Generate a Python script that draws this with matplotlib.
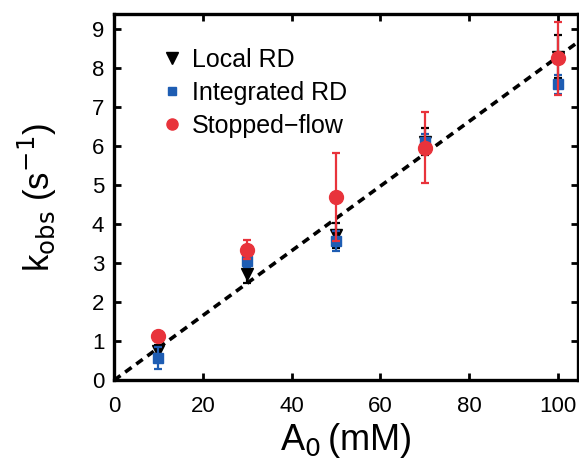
import matplotlib
matplotlib.use("Agg")
import matplotlib.pyplot as plt
from matplotlib.lines import Line2D
import numpy as np

plt.rcParams['font.family'] = ['Liberation Sans', 'DejaVu Sans']

# data
A0 = [10, 30, 50, 70, 100]                  # mM

local_rd = [0.75, 2.72, 3.72, 6.12, 8.30]
local_err = [0.15, 0.22, 0.32, 0.35, 0.55]

integ_rd = [0.58, 3.05, 3.58, 6.10, 7.59]
integ_err = [0.28, 0.15, 0.26, 0.23, 0.25]

sf_k = [1.14, 3.35, 4.70, 5.97, 8.26]
sf_err = [0.0, 0.25, 1.12, 0.91, 0.93]

slope = 0.083                                # dashed fit line through origin

labels = ["Local RD", "Integrated RD", "Stopped\u2212flow"]

RED = "#e8333b"
BLUE = "#1e5db3"

fig = plt.figure(figsize=(5.79, 4.62), dpi=100)
ax = fig.add_axes([0.197, 0.177, 0.801, 0.793])

xfit = np.array([0, 106])
ax.plot(xfit, slope * xfit, ls=(0, (2.2, 1.6)), color="black", lw=2.6, zorder=1)

ax.errorbar(A0, local_rd, yerr=local_err, fmt="v", color="black", ms=9,
            elinewidth=1.6, capsize=3, capthick=1.6, zorder=2)
ax.errorbar(A0, integ_rd, yerr=integ_err, fmt="s", color=BLUE, ms=7,
            elinewidth=1.6, capsize=3, capthick=1.6, zorder=3)
ax.errorbar(A0, sf_k, yerr=sf_err, fmt="o", color=RED, ms=10,
            elinewidth=1.6, capsize=3, capthick=1.6, zorder=4)

ax.set_xlim(0, 104.5)
ax.set_ylim(0, 9.4)
ax.set_xticks([0, 20, 40, 60, 80, 100])
ax.set_yticks(range(10))
ax.tick_params(direction="in", length=5, width=2, labelsize=16,
               top=True, right=True)
ax.tick_params(axis="x", pad=11)
ax.tick_params(axis="y", pad=7)
for s in ax.spines.values():
    s.set_linewidth(2.4)

ax.set_xlabel(r"A$_0\,$(mM)", fontsize=26, labelpad=3)
ax.set_ylabel(r"k$_{\rm obs}$ (s$^{-1}$)", fontsize=25, labelpad=24)

handles = [
    Line2D([], [], ls="", marker="v", color="black", ms=8),
    Line2D([], [], ls="", marker="s", color=BLUE, ms=6),
    Line2D([], [], ls="", marker="o", color=RED, ms=8),
]
ax.legend(handles, labels, loc="upper left", bbox_to_anchor=(0.07, 0.934),
          frameon=False, fontsize=18, handletextpad=0.2, borderaxespad=0.0,
          labelspacing=0.35, handlelength=1.2)

fig.savefig("out.png", dpi=100)
